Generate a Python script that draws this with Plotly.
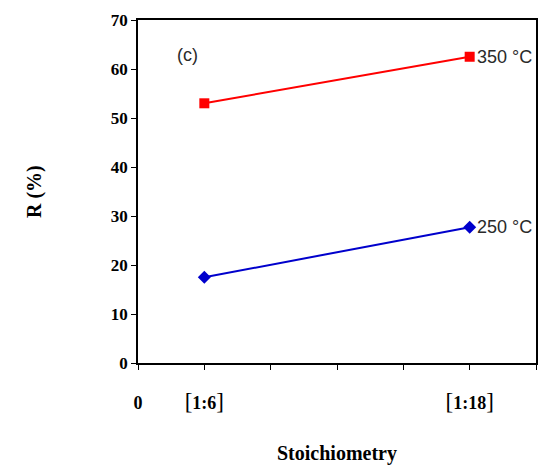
import plotly.graph_objects as go

# Stoichiometry positions on the x axis and the labels shown at them
x_positions = [1, 5]
tick_vals = [0, 1, 2, 3, 4, 5, 6]
tick_labels = ["0", "1:6", "", "", "", "1:18", ""]

# Conversion R (%) at each stoichiometry
r_350 = [53.0, 62.5]
r_250 = [17.5, 27.7]

serif = "Liberation Serif, Times New Roman, serif"
sans = "Liberation Sans, Arial, sans-serif"


def bracketed(label):
    # ratio labels get tall, regular-weight square brackets
    if not label or label == "0":
        return label
    br = "<span style='font-size:23px;font-weight:normal'>%s</span>"
    return br % "[" + label + br % "]"


tick_text = [bracketed(t) for t in tick_labels]

fig = go.Figure()
fig.add_trace(go.Scatter(
    x=x_positions, y=r_350, mode="lines+markers",
    line=dict(color="#ff0000", width=2),
    marker=dict(symbol="square", size=10, color="#ff0000"),
    name="350 °C",
))
fig.add_trace(go.Scatter(
    x=x_positions, y=r_250, mode="lines+markers",
    line=dict(color="#0000cc", width=2),
    marker=dict(symbol="diamond", size=10, color="#0000cc"),
    name="250 °C",
))

# Series labels at the right end of each line
for series, label in ((r_350, "350 °C"), (r_250, "250 °C")):
    fig.add_annotation(
        x=x_positions[-1], y=series[-1], text=label, showarrow=False,
        xanchor="left", xshift=5, yanchor="middle",
        font=dict(family=sans, size=18, color="#2a2a2a"),
    )

fig.add_annotation(
    x=0.75, y=62.8, text="(c)", showarrow=False,
    font=dict(family=sans, size=18, color="#2a2a2a"),
)

fig.add_annotation(
    xref="paper", yref="paper", x=0.5, y=-0.265, text="<b>Stoichiometry</b>",
    showarrow=False, yanchor="middle",
    font=dict(family=serif, size=20, color="#000000"),
)
fig.add_annotation(
    xref="paper", yref="paper", x=-0.26, y=0.5, text="<b>R (%)</b>",
    showarrow=False, textangle=-90, xanchor="center",
    font=dict(family=serif, size=20, color="#000000"),
)

fig.update_layout(
    width=545, height=466,
    margin=dict(l=138, r=7, t=20, b=103),
    plot_bgcolor="white", paper_bgcolor="white",
    showlegend=False,
    xaxis=dict(
        range=[0, 6], tickvals=tick_vals, ticktext=tick_text,
        ticks="outside", ticklen=5, tickcolor="#000000", tickwidth=1,
        showline=True, linecolor="#000000", linewidth=1.5, mirror=True,
        showgrid=False, zeroline=False,
        ticklabelstandoff=18,
        tickfont=dict(family=serif, size=18, color="#000000", weight="bold"),
    ),
    yaxis=dict(
        range=[0, 70], dtick=10,
        ticks="outside", ticklen=5, tickcolor="#000000", tickwidth=1,
        showline=True, linecolor="#000000", linewidth=1.5, mirror=True,
        showgrid=False, zeroline=False,
        tickfont=dict(family=serif, size=17, color="#000000", weight="bold"),
    ),
)

fig.write_html("out.html")
